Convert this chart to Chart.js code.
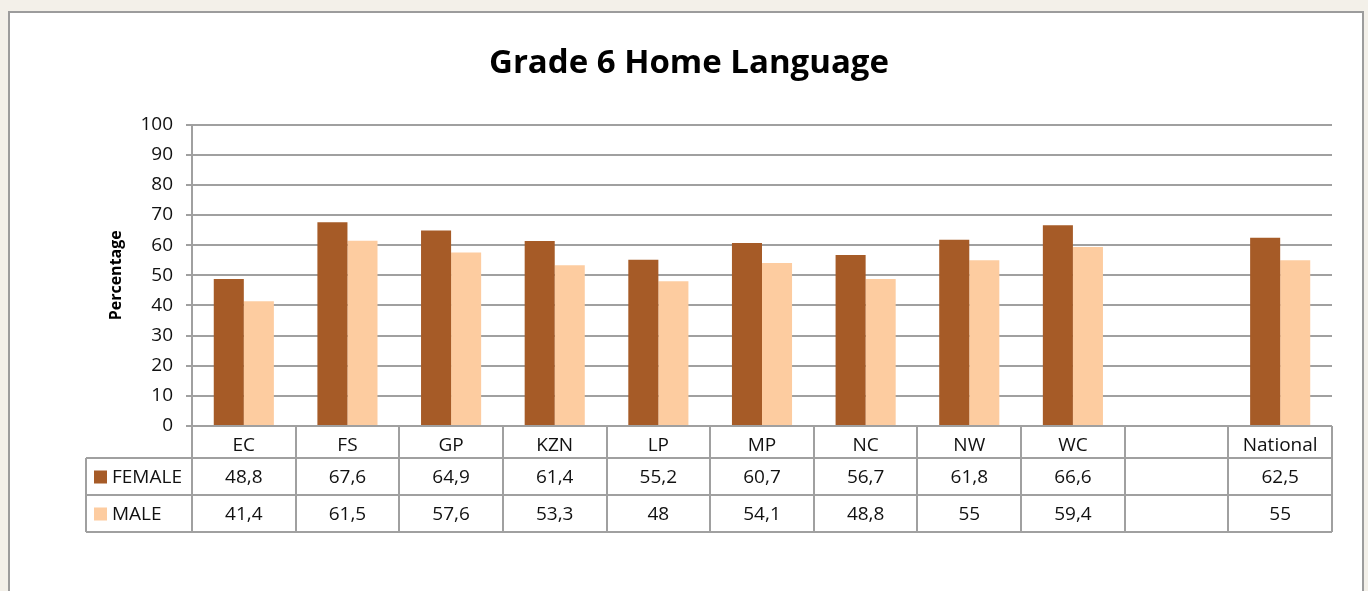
<!DOCTYPE html>
<html>
<head>
<meta charset="utf-8">
<script src="https://cdn.jsdelivr.net/npm/chart.js@4.4.0/dist/chart.umd.min.js"></script>
<style>
  html, body { margin: 0; padding: 0; background: #f3f0e9; overflow: hidden; }
  #frame {
    position: absolute; left: 8px; top: 11px; width: 1352px; height: 620px;
    background: #ffffff; border: 2px solid #9c9c9c;
  }
  #wrap { position: absolute; left: 0; top: 0; width: 1368px; height: 591px; }
</style>
</head>
<body>
<div id="frame"></div>
<div id="wrap"><canvas id="chart" width="1368" height="591"></canvas></div>
<script>
  // Provinces plus the national figure (one blank column before it)
  const categories = ["EC", "FS", "GP", "KZN", "LP", "MP", "NC", "NW", "WC", "", "National"];
  const femaleValues = [48.8, 67.6, 64.9, 61.4, 55.2, 60.7, 56.7, 61.8, 66.6, null, 62.5];
  const maleValues = [41.4, 61.5, 57.6, 53.3, 48, 54.1, 48.8, 55, 59.4, null, 55];
  const seriesNames = ["FEMALE", "MALE"];
  const seriesColors = ["#a65b27", "#fdcca0"];

  const FONT = "'Open Sans', sans-serif";
  const LINE = "#a0a0a0";

  // format numbers with a decimal comma
  const fmt = v => (v === null || v === undefined) ? "" : String(v).replace(".", ",");

  // draws the data table under the x axis, aligned to the category columns
  const dataTable = {
    id: "dataTable",
    afterDraw(chart) {
      const ctx = chart.ctx;
      const x = chart.scales.x;
      const area = chart.chartArea;
      const n = categories.length;
      const colW = (x.right - x.left) / n;
      const headerBottom = area.bottom + 32;
      const rowH = 37;
      const legendLeft = 86;
      const tableBottom = headerBottom + rowH * 2;

      ctx.save();
      ctx.strokeStyle = LINE;
      ctx.lineWidth = 2;
      ctx.beginPath();
      // column separators
      for (let i = 0; i <= n; i++) {
        const bx = Math.round(x.left + colW * i);
        ctx.moveTo(bx, area.bottom);
        ctx.lineTo(bx, tableBottom);
      }
      // legend column left edge
      ctx.moveTo(legendLeft, headerBottom);
      ctx.lineTo(legendLeft, tableBottom);
      // row lines
      for (let r = 0; r <= 2; r++) {
        const y = headerBottom + rowH * r;
        ctx.moveTo(legendLeft, y);
        ctx.lineTo(x.right, y);
      }
      ctx.stroke();

      ctx.font = "19px " + FONT;
      ctx.textBaseline = "middle";
      const rows = [femaleValues, maleValues];
      rows.forEach((vals, r) => {
        const cy = headerBottom + rowH * r + rowH / 2 + 1;
        // legend key + series name
        ctx.fillStyle = seriesColors[r];
        ctx.fillRect(legendLeft + 8, cy - 7, 13, 13);
        ctx.fillStyle = "#111";
        ctx.textAlign = "left";
        ctx.fillText(seriesNames[r], legendLeft + 26, cy);
        // values
        ctx.textAlign = "center";
        vals.forEach((v, i) => {
          ctx.fillText(fmt(v), x.getPixelForValue(i), cy);
        });
      });
      ctx.restore();
    }
  };

  new Chart(document.getElementById("chart"), {
    type: "bar",
    data: {
      labels: categories,
      datasets: [
        { label: seriesNames[0], data: femaleValues, backgroundColor: seriesColors[0] },
        { label: seriesNames[1], data: maleValues, backgroundColor: seriesColors[1] }
      ]
    },
    options: {
      responsive: false,
      animation: false,
      layout: { padding: { left: 46, right: 36, top: 0, bottom: 0 } },
      datasets: { bar: { categoryPercentage: 0.58, barPercentage: 1.0 } },
      plugins: {
        legend: { display: false },
        tooltip: { enabled: false },
        title: {
          display: true,
          text: "Grade 6 Home Language",
          color: "#000",
          font: { family: FONT, size: 33, weight: "bold" },
          padding: { top: 44, bottom: 41 }
        }
      },
      scales: {
        x: {
          grid: { display: false },
          border: { display: false },
          ticks: { color: "#111", font: { family: FONT, size: 19 }, padding: 0 },
          afterFit(scale) { scale.height = 165; }
        },
        y: {
          min: 0, max: 100,
          ticks: { stepSize: 10, color: "#111", font: { family: FONT, size: 19 }, padding: 13 },
          grid: { color: LINE, lineWidth: 2, tickLength: 6 },
          border: { display: true, color: LINE, width: 2 },
          title: {
            display: true, text: "Percentage", color: "#000",
            font: { family: FONT, size: 16, weight: "bold" }, padding: { top: 61, bottom: 0 }
          },
          afterFit(scale) { scale.width = 146; }
        }
      }
    },
    plugins: [dataTable]
  });
</script>
</body>
</html>
